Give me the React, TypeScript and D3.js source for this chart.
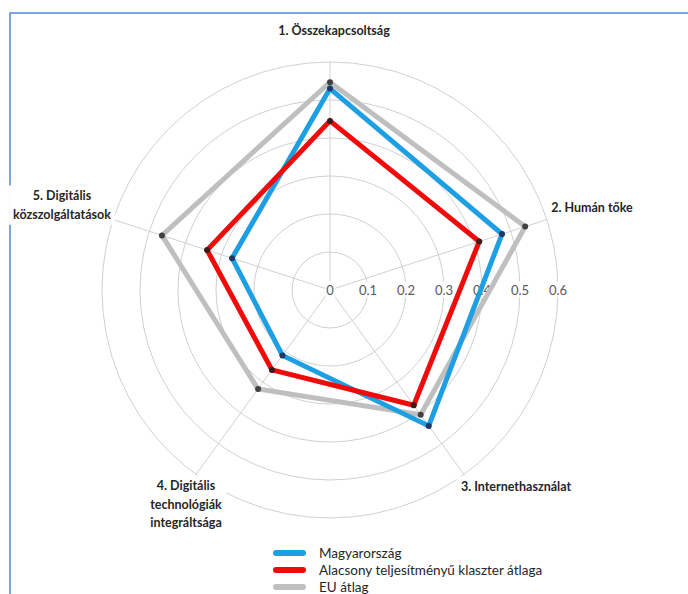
import React, { useEffect, useRef } from "react";
import * as d3 from "d3";

const axes = [
  ["1. Összekapcsoltság"],
  ["2. Humán tőke"],
  ["3. Internethasználat"],
  ["4. Digitális", "technológiák", "integráltsága"],
  ["5. Digitális", "közszolgáltatások"],
];
const ticks = [0, 0.1, 0.2, 0.3, 0.4, 0.5, 0.6];
const seriesNames = [
  "Magyarország",
  "Alacsony teljesítményű klaszter átlaga",
  "EU átlag",
];
const magyar = [0.53, 0.476, 0.442, 0.213, 0.271];
const klaszter = [0.445, 0.413, 0.375, 0.26, 0.34];
const eu = [0.547, 0.54, 0.406, 0.322, 0.465];

export default function App() {
  const ref = useRef<SVGSVGElement>(null);

  useEffect(() => {
    const svg = d3.select(ref.current);
    svg.selectAll("*").remove();
    const cx = 330,
      cy = 290,
      font = "Lato, 'Open Sans', sans-serif";
    const r = d3.scaleLinear().domain([0, 0.6]).range([0, 228]);
    const n = axes.length;
    const ang = (i: number) => (i * 2 * Math.PI) / n;
    const pt = (i: number, v: number) => [
      cx + r(v) * Math.sin(ang(i)),
      cy - r(v) * Math.cos(ang(i)),
    ];

    // frame
    svg
      .append("rect")
      .attr("x", 10)
      .attr("y", 13)
      .attr("width", 720)
      .attr("height", 620)
      .attr("fill", "none")
      .attr("stroke", "#4f88d4")
      .attr("stroke-width", 1.5);

    const g = svg.append("g");
    // grid circles
    g.selectAll("circle.grid")
      .data(ticks.slice(1))
      .enter()
      .append("circle")
      .attr("cx", cx)
      .attr("cy", cy)
      .attr("r", (d) => r(d))
      .attr("fill", "none")
      .attr("stroke", "#d0d0d0")
      .attr("stroke-width", 1);
    // spokes
    g.selectAll("line.spoke")
      .data(axes)
      .enter()
      .append("line")
      .attr("x1", cx)
      .attr("y1", cy)
      .attr("x2", (d, i) => pt(i, 0.6)[0])
      .attr("y2", (d, i) => pt(i, 0.6)[1])
      .attr("stroke", "#d0d0d0")
      .attr("stroke-width", 1);

    // axis labels with white boxes
    const labelPos = [
      [334, 31],
      [592, 208],
      [516, 487],
      [186, 486],
      [62, 196],
    ];
    axes.forEach((lines, i) => {
      const lg = g.append("g");
      const t = lg
        .append("text")
        .attr("text-anchor", "middle")
        .attr("font-family", font)
        .attr("font-weight", "bold")
        .attr("font-size", 12.5)
        .attr("fill", "#262626");
      lines.forEach((s, j) => {
        t.append("tspan")
          .attr("x", labelPos[i][0])
          .attr("y", labelPos[i][1] + j * 18.5)
          .attr("dy", "0.35em")
          .text(s);
      });
      const bb = (t.node() as SVGTextElement).getBBox();
      lg.insert("rect", "text")
        .attr("x", bb.x - 4)
        .attr("y", bb.y - 3)
        .attr("width", bb.width + 8)
        .attr("height", bb.height + 6)
        .attr("fill", "white");
    });

    // tick labels
    ticks.forEach((tk) => {
      const lg = g.append("g");
      const t = lg
        .append("text")
        .attr("x", cx + r(tk))
        .attr("y", cy)
        .attr("dy", "0.35em")
        .attr("text-anchor", "middle")
        .attr("font-family", font)
        .attr("font-size", 13)
        .attr("fill", "#595959")
        .text(String(tk));
      const bb = (t.node() as SVGTextElement).getBBox();
      lg.insert("rect", "text")
        .attr("x", bb.x - 1)
        .attr("y", bb.y)
        .attr("width", bb.width + 2)
        .attr("height", bb.height)
        .attr("fill", "white");
    });

    const series = [
      { values: eu, color: "#bfbfbf", marker: "#404040" },
      { values: magyar, color: "#1e9fe3", marker: "#1f3864" },
      { values: klaszter, color: "#f00a0a", marker: "#3b1b1b" },
    ];
    const radial = d3
      .lineRadial<number>()
      .angle((d, i) => ang(i))
      .radius((d) => r(d))
      .curve(d3.curveLinearClosed);

    series.forEach((s) => {
      const sg = g.append("g").attr("transform", `translate(${cx},${cy})`);
      sg.append("path")
        .attr("d", radial(s.values))
        .attr("fill", "none")
        .attr("stroke", s.color)
        .attr("stroke-width", 5)
        .attr("stroke-linejoin", "miter");
      sg.selectAll("circle")
        .data(s.values)
        .enter()
        .append("circle")
        .attr("cx", (d, i) => r(d) * Math.sin(ang(i)))
        .attr("cy", (d, i) => -r(d) * Math.cos(ang(i)))
        .attr("r", 3)
        .attr("fill", s.marker);
    });

    // legend
    const legendColors = ["#1e9fe3", "#f00a0a", "#bfbfbf"];
    const leg = svg.append("g");
    seriesNames.forEach((name, i) => {
      const y = 553 + i * 17;
      leg
        .append("line")
        .attr("x1", 276)
        .attr("x2", 303)
        .attr("y1", y)
        .attr("y2", y)
        .attr("stroke", legendColors[i])
        .attr("stroke-width", 6)
        .attr("stroke-linecap", "round");
      leg
        .append("text")
        .attr("x", 319)
        .attr("y", y)
        .attr("dy", "0.35em")
        .attr("font-family", font)
        .attr("font-size", 13.5)
        .attr("fill", "#262626")
        .text(name);
    });
  }, []);

  return (
    <svg
      ref={ref}
      width={688}
      height={594}
      style={{ position: "absolute", left: 0, top: 0, background: "white" }}
    />
  );
}
